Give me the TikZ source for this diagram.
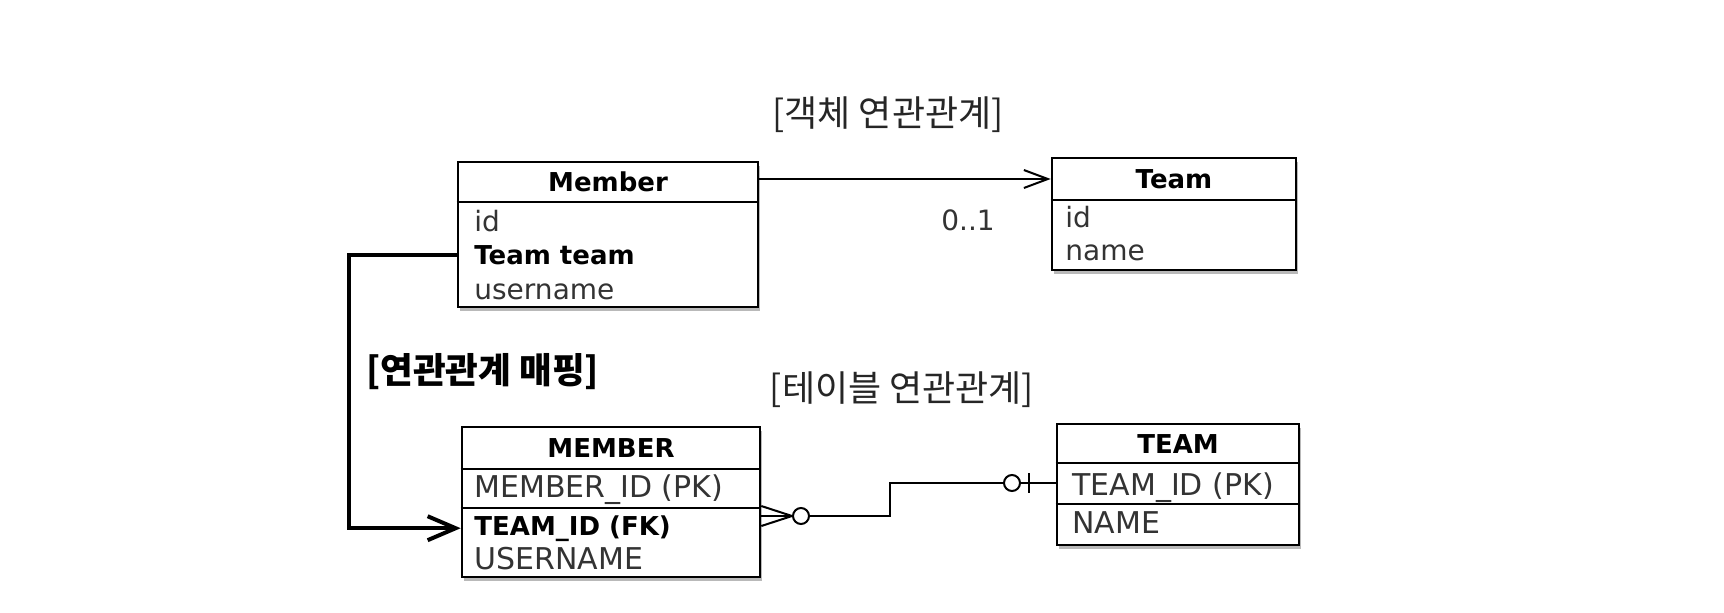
\documentclass[tikz,border=0pt]{standalone}
\usepackage{fontspec}
\setmainfont{DejaVu Sans}
\newfontfamily\kr{Noto Sans CJK KR}
\usepackage{tikz}
\usetikzlibrary{fit}
\usetikzlibrary{shadows}
\usetikzlibrary{arrows.meta}

\begin{document}
\begin{tikzpicture}
        [x=0.5pt, y=-0.5pt,
         table/.style={draw, line width=1.3pt, fill=white, inner sep=0pt,
           drop shadow={shadow xshift=1pt, shadow yshift=-1.8pt, opacity=.55}},
         rule/.style={line width=1.2pt},
         head/.style={font=\fontsize{13}{15}\selectfont\bfseries},
         attr/.style={anchor=base west, inner sep=0pt, text=black!80,
           font=\fontsize{14}{16}\selectfont},
         col/.style={attr, font=\fontsize{15}{18}\selectfont},
         key/.style={attr, text=black, font=\fontsize{13}{15}\selectfont\bfseries},
         title/.style={text=black!85, font=\kr\fontsize{18}{21}\selectfont},
         assoc/.style={line width=1pt, -{Straight Barb[length=12pt,width=9pt]}},
         mapping/.style={line width=2pt, -{Straight Barb[length=14pt,width=12pt]}},
         er/.style={line width=1pt},
         ring/.style={circle, draw, line width=1pt, fill=white, inner sep=0pt,
           minimum size=8pt}]
      \useasboundingbox (0,0) rectangle (1724,612);

      % object association
      \node[title] (objlabel) at (888,115) {[객체 연관관계]};
      \node[table, fit={(458,162) (758,307)}] (member) {};
      \draw[rule] (member.west |- 0,202) -- (member.east |- 0,202);
      \node[head] (memberhead) at (608,182) {Member};
      \node[attr] (mid)   at (474,231) {id};
      \node[key]  (mteam) at (474,264) {Team team};
      \node[attr] (muser) at (474,299) {username};

      \node[table, fit={(1052,158) (1296,270)}] (team) {};
      \draw[rule] (team.west |- 0,200) -- (team.east |- 0,200);
      \node[head] (teamhead) at (1174,179) {Team};
      \node[attr] (tid)   at (1065,227) {id};
      \node[attr] (tname) at (1065,260) {name};

      \draw[assoc] (member.east |- teamhead) -- (team.west |- teamhead);
      \node[attr, anchor=center] (mult) at (968,220) {0..1};

      % table association
      \node[title] (tablelabel) at (902,390) {[테이블 연관관계]};
      \node[title, anchor=west, text=black, font=\kr\fontsize{17.8}{21}\selectfont\bfseries]
        (maplabel) at (359,372) {[연관관계 매핑]};

      \node[table, fit={(462,427) (760,577)}] (MEMBER) {};
      \draw[rule] (MEMBER.west |- 0,469) -- (MEMBER.east |- 0,469);
      \draw[rule] (MEMBER.west |- 0,508) -- (MEMBER.east |- 0,508);
      \node[head] (MEMBERhead) at (611,448) {MEMBER};
      \node[col] (mpk)   at (474,497) {MEMBER\_ID (PK)};
      \node[key] (mfk)   at (474,535) {TEAM\_ID (FK)};
      \node[col] (mname) at (474,569) {USERNAME};

      \node[table, fit={(1057,424) (1299,545)}] (TEAM) {};
      \draw[rule] (TEAM.west |- 0,463) -- (TEAM.east |- 0,463);
      \draw[rule] (TEAM.west |- 0,504) -- (TEAM.east |- 0,504);
      \node[head] (TEAMhead) at (1178,444) {TEAM};
      \node[col] (tpk)   at (1072,495) {TEAM\_ID (PK)};
      \node[col] (tcol)  at (1072,533) {NAME};

      % mapping arrow
      \coordinate (bend) at (349,0);
      \draw[mapping] (member.west |- mteam) -| (bend |- mfk) -- (MEMBER.west |- mfk);

      % crow's foot
      \node[ring] (many) at (801,516) {};
      \node[ring] (one)  at (1012,483) {};
      \coordinate (kink) at (890,0);
      \coordinate (foot) at (MEMBER.east |- many);
      \foreach \dy in {-5pt,0pt,5pt}
        \draw[er] ([yshift=\dy]foot) -- (many.west);
      \draw[er] (many.east) -- (kink |- many) |- (one.west);
      \draw[er] (one.east) -- (TEAM.west |- one);
      \draw[er] ([xshift=4pt,yshift=5pt]one.east) -- ([xshift=4pt,yshift=-5pt]one.east);
      \end{tikzpicture}
\end{document}
